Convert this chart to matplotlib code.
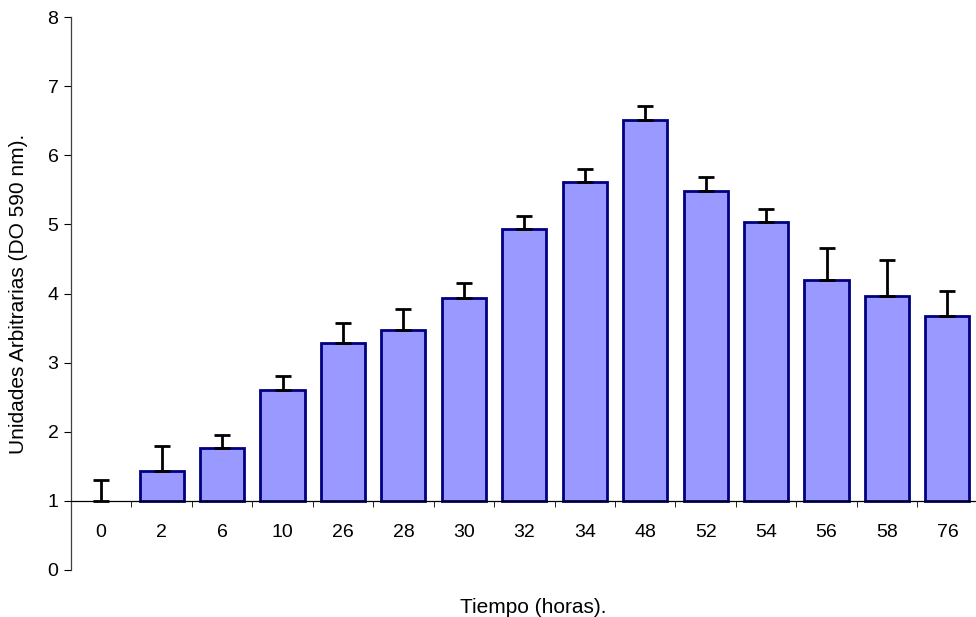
import matplotlib.pyplot as plt
import numpy as np

plt.rcParams['font.family'] = ['Liberation Sans', 'DejaVu Sans']

horas = ['0', '2', '6', '10', '26', '28', '30', '32', '34', '48', '52', '54', '56', '58', '76']
valores = [1.00, 1.43, 1.76, 2.60, 3.29, 3.47, 3.93, 4.93, 5.61, 6.51, 5.48, 5.03, 4.19, 3.97, 3.67]
error_sup = [0.30, 0.37, 0.19, 0.20, 0.28, 0.31, 0.22, 0.19, 0.19, 0.21, 0.20, 0.19, 0.47, 0.51, 0.37]

base = 1.0
x = np.arange(len(horas))
alturas = np.array(valores) - base
con_barra = alturas > 0

fig = plt.figure(figsize=(9.76, 6.17), dpi=100)
ax = fig.add_axes([0.0727, 0.0762, 0.929, 0.8962])

# the value at 0 h sits on the baseline, so it gets no bar, only its error bar
ax.bar(x[con_barra], alturas[con_barra], bottom=base, width=0.73, color='#9999FF',
       edgecolor='#000080', linewidth=2.0, zorder=2)
ax.errorbar(x, valores, yerr=[np.zeros(len(x)), error_sup], fmt='none',
            ecolor='black', elinewidth=2.0, capsize=5.8, capthick=2.0, zorder=3)

ax.set_xlim(-0.5, len(horas) - 0.5)
ax.set_ylim(0, 8)
ax.set_yticks(range(0, 9))

ax.spines['top'].set_visible(False)
ax.spines['right'].set_visible(False)
ax.spines['bottom'].set_position(('data', base))
ax.spines['bottom'].set_linewidth(0.9)
ax.spines['left'].set_linewidth(0.9)
ax.spines['left'].set_color('#404040')

ax.set_xticks(x)
ax.set_xticklabels(horas)
ax.set_xticks(np.arange(-0.5, len(horas), 1), minor=True)
ax.tick_params(axis='x', which='major', length=0, pad=16.5, labelsize=14)
ax.tick_params(axis='x', which='minor', length=4, direction='out')
ax.tick_params(axis='y', length=5, direction='out', labelsize=14, pad=4)

ax.set_ylabel('Unidades Arbitrarias (DO 590 nm).', fontsize=15, labelpad=14)
fig.text(0.546, 0.0065, 'Tiempo (horas).', ha='center', va='baseline', fontsize=15)

fig.savefig('out.png', dpi=100)
